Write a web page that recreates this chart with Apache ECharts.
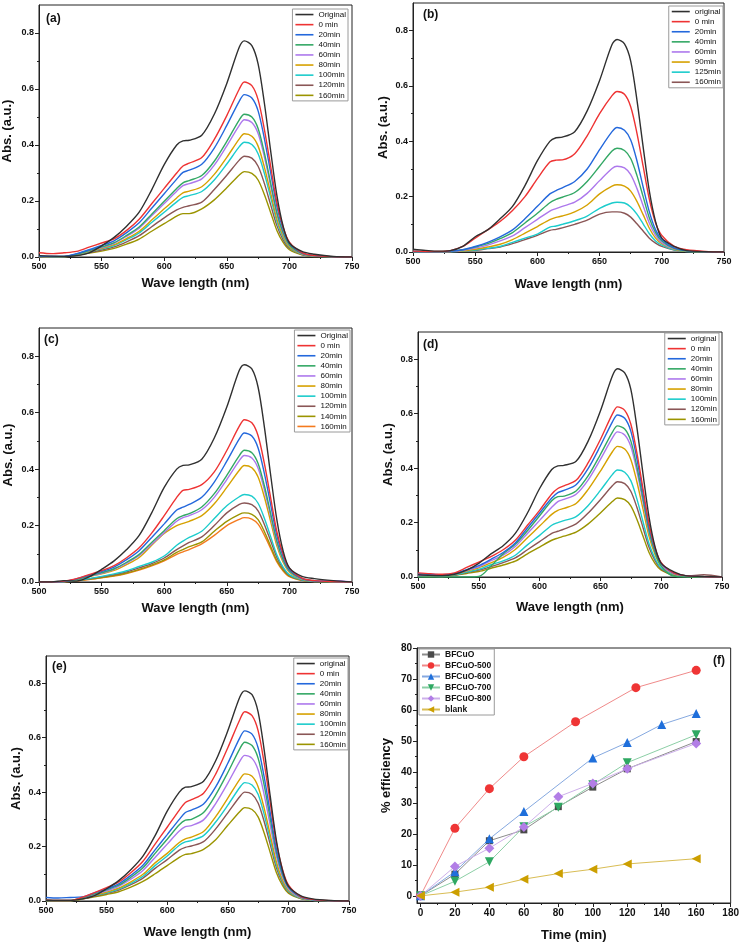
<!DOCTYPE html>
<html>
<head>
<meta charset="utf-8">
<script src="https://cdn.jsdelivr.net/npm/echarts@6/dist/echarts.min.js"></script>
<style>
html, body { margin: 0; padding: 0; background: #fff; }
#chart { width: 742px; height: 945px; }
</style>
</head>
<body>
<div id="chart"></div>
<script>
// wavelength grid (nm) shared by all spectra
var wl = [500,510,520,530,540,550,560,570,580,590,600,610,615,620,630,640,650,660,664,670,675,680,685,690,695,700,710,720,735,750];

// (a)
var aNames = ['Original','0 min','20min','40min','60min','80min','100min','120min','160min'];
var aOrig = [0.005,0.003,0.002,0.005,0.015,0.04,0.07,0.11,0.16,0.24,0.33,0.40,0.415,0.417,0.435,0.51,0.62,0.75,0.772,0.755,0.69,0.55,0.38,0.22,0.11,0.05,0.02,0.01,0.002,0];
var a0 = [0.015,0.012,0.015,0.02,0.035,0.05,0.065,0.095,0.135,0.19,0.245,0.30,0.325,0.335,0.355,0.42,0.505,0.60,0.625,0.612,0.562,0.456,0.325,0.194,0.106,0.053,0.016,0.005,0.001,0];
var a20 = [0.003,0.002,0.002,0.012,0.026,0.041,0.058,0.087,0.122,0.174,0.226,0.278,0.302,0.31,0.331,0.389,0.47,0.557,0.58,0.568,0.522,0.423,0.302,0.18,0.099,0.049,0.015,0.005,0.001,0];
var a40 = [0.003,0.002,0.002,0.01,0.023,0.036,0.051,0.077,0.107,0.153,0.199,0.245,0.265,0.273,0.291,0.342,0.413,0.49,0.51,0.50,0.459,0.372,0.265,0.158,0.087,0.043,0.013,0.004,0.001,0];
var a60 = [0.002,0.002,0.002,0.01,0.022,0.034,0.049,0.074,0.103,0.147,0.191,0.235,0.255,0.262,0.279,0.328,0.397,0.47,0.49,0.48,0.441,0.358,0.255,0.152,0.083,0.042,0.012,0.004,0.001,0];
var a80 = [0.002,0.001,0.001,0.009,0.02,0.031,0.044,0.066,0.092,0.132,0.172,0.211,0.229,0.235,0.251,0.295,0.356,0.422,0.44,0.431,0.396,0.321,0.229,0.136,0.075,0.037,0.011,0.004,0.001,0];
var a100 = [0.002,0.001,0.001,0.008,0.018,0.029,0.041,0.062,0.086,0.123,0.16,0.197,0.213,0.219,0.234,0.275,0.332,0.394,0.41,0.402,0.369,0.299,0.213,0.127,0.07,0.035,0.01,0.003,0.001,0];
var a120 = [0.002,0.001,0.001,0.007,0.016,0.025,0.036,0.054,0.076,0.108,0.14,0.168,0.177,0.183,0.196,0.241,0.292,0.346,0.36,0.353,0.324,0.263,0.187,0.112,0.061,0.031,0.009,0.003,0.001,0];
var a160 = [0.001,0.001,0.001,0.006,0.014,0.021,0.031,0.046,0.064,0.092,0.119,0.146,0.155,0.155,0.172,0.204,0.247,0.293,0.305,0.299,0.275,0.223,0.159,0.095,0.052,0.026,0.008,0.002,0.001,0];

// (b)
var bNames = ['original','0 min','20min','40min','60min','90min','125min','160min'];
var bOrig = [0.01,0.006,0.003,0.005,0.02,0.055,0.08,0.12,0.165,0.24,0.33,0.40,0.413,0.415,0.435,0.51,0.62,0.75,0.768,0.752,0.69,0.55,0.38,0.22,0.11,0.05,0.02,0.005,0.001,0];
var b0 = [0.003,0.002,0.002,0.005,0.02,0.05,0.08,0.11,0.15,0.2,0.265,0.325,0.332,0.333,0.355,0.42,0.50,0.565,0.58,0.57,0.525,0.43,0.31,0.19,0.105,0.06,0.02,0.008,0.002,0];
var b20 = [0.002,0.001,0.001,0.003,0.008,0.02,0.035,0.055,0.08,0.12,0.165,0.21,0.222,0.232,0.255,0.30,0.37,0.435,0.45,0.44,0.405,0.33,0.235,0.145,0.08,0.045,0.015,0.005,0.001,0];
var b40 = [0.002,0.001,0.001,0.003,0.008,0.018,0.03,0.048,0.07,0.105,0.14,0.178,0.19,0.198,0.215,0.255,0.31,0.365,0.375,0.367,0.338,0.277,0.2,0.123,0.07,0.04,0.013,0.004,0.001,0];
var b60 = [0.002,0.001,0.001,0.002,0.006,0.014,0.025,0.04,0.058,0.088,0.118,0.148,0.157,0.165,0.18,0.212,0.258,0.302,0.31,0.304,0.28,0.23,0.167,0.104,0.06,0.034,0.011,0.004,0.001,0];
var b90 = [0.001,0.001,0.001,0.002,0.004,0.01,0.018,0.028,0.045,0.068,0.092,0.117,0.125,0.13,0.145,0.17,0.21,0.238,0.243,0.238,0.22,0.183,0.135,0.086,0.05,0.03,0.01,0.003,0.001,0];
var b125 = [0.001,0.001,0.001,0.001,0.003,0.007,0.013,0.02,0.035,0.05,0.065,0.09,0.094,0.1,0.113,0.13,0.158,0.177,0.18,0.177,0.163,0.137,0.102,0.066,0.04,0.025,0.008,0.002,0.001,0];
var b160 = [0.001,0.001,0.001,0.001,0.003,0.006,0.012,0.018,0.03,0.045,0.06,0.078,0.082,0.087,0.1,0.115,0.137,0.145,0.145,0.14,0.126,0.102,0.076,0.05,0.032,0.02,0.007,0.002,0.001,0];

// (c)
var cNames = ['Original','0 min','20min','40min','60min','80min','100min','120min','140min','160min'];
var cOrig = [0,0,0.005,0.003,0.018,0.045,0.075,0.115,0.165,0.245,0.335,0.40,0.413,0.415,0.435,0.51,0.62,0.75,0.77,0.755,0.69,0.55,0.38,0.22,0.11,0.05,0.02,0.012,0.005,0];
var c0 = [0,0,0.003,0.012,0.026,0.04,0.058,0.086,0.121,0.173,0.235,0.30,0.325,0.328,0.345,0.39,0.466,0.552,0.575,0.564,0.518,0.42,0.299,0.178,0.098,0.049,0.014,0.005,0.001,0];
var c20 = [0,0,0.002,0.011,0.024,0.037,0.053,0.079,0.111,0.158,0.206,0.255,0.265,0.275,0.30,0.354,0.428,0.507,0.528,0.517,0.475,0.385,0.275,0.164,0.09,0.045,0.013,0.004,0.001,0];
var c40 = [0,0,0.002,0.009,0.021,0.033,0.047,0.07,0.098,0.14,0.182,0.224,0.235,0.242,0.266,0.313,0.378,0.448,0.467,0.458,0.42,0.341,0.243,0.145,0.079,0.04,0.012,0.004,0.001,0];
var c60 = [0,0,0.002,0.009,0.02,0.031,0.045,0.067,0.094,0.134,0.175,0.215,0.228,0.235,0.256,0.30,0.363,0.43,0.448,0.439,0.403,0.327,0.233,0.139,0.076,0.038,0.011,0.004,0.005,0];
var c80 = [0,0,0.002,0.008,0.019,0.029,0.041,0.062,0.087,0.13,0.172,0.2,0.208,0.215,0.235,0.277,0.335,0.396,0.413,0.405,0.372,0.301,0.215,0.128,0.07,0.035,0.01,0.003,0.001,0];
var c100 = [0,0,0.002,0.006,0.012,0.02,0.029,0.04,0.055,0.07,0.092,0.13,0.145,0.158,0.18,0.225,0.27,0.302,0.31,0.304,0.279,0.226,0.161,0.096,0.053,0.026,0.008,0.002,0.001,0];
var c120 = [0,0,0.001,0.005,0.011,0.018,0.026,0.036,0.05,0.065,0.085,0.115,0.128,0.14,0.16,0.2,0.245,0.275,0.28,0.274,0.252,0.204,0.146,0.087,0.048,0.024,0.007,0.002,0.001,0];
var c140 = [0,0,0.001,0.005,0.01,0.016,0.023,0.032,0.045,0.06,0.078,0.105,0.115,0.125,0.142,0.18,0.215,0.24,0.245,0.24,0.221,0.179,0.127,0.076,0.042,0.021,0.006,0.002,0.001,0];
var c160 = [0,0,0.001,0.004,0.009,0.015,0.021,0.03,0.042,0.057,0.075,0.098,0.107,0.115,0.135,0.165,0.2,0.222,0.228,0.223,0.205,0.166,0.119,0.071,0.039,0.019,0.006,0.002,0.001,0];

// (d)
var dNames = ['original','0 min','20min','40min','60min','80min','100min','120min','160min'];
var dOrig = [0.008,0.006,0.005,0.01,0.025,0.05,0.085,0.115,0.16,0.235,0.325,0.395,0.408,0.41,0.425,0.50,0.61,0.74,0.765,0.75,0.69,0.55,0.38,0.22,0.11,0.05,0.02,0.005,0.002,0];
var d0 = [0.015,0.012,0.01,0.015,0.035,0.055,0.075,0.1,0.135,0.19,0.245,0.305,0.325,0.335,0.355,0.42,0.505,0.60,0.625,0.612,0.562,0.456,0.325,0.194,0.106,0.053,0.016,0.005,0.001,0];
var d20 = [0.012,0.01,0.008,0.012,0.027,0.042,0.065,0.09,0.125,0.18,0.235,0.29,0.31,0.318,0.339,0.399,0.482,0.571,0.595,0.583,0.536,0.434,0.309,0.184,0.101,0.051,0.015,0.005,0.001,0];
var d40 = [0,0,0,0,0,0.002,0.04,0.085,0.12,0.17,0.225,0.28,0.295,0.297,0.316,0.372,0.45,0.533,0.555,0.544,0.5,0.405,0.289,0.17,0.09,0.04,0.003,0,0,0];
var d60 = [0.005,0.004,0.003,0.011,0.024,0.037,0.06,0.08,0.112,0.16,0.208,0.256,0.277,0.285,0.304,0.357,0.432,0.512,0.533,0.522,0.48,0.389,0.277,0.165,0.091,0.045,0.013,0.004,0.001,0];
var d80 = [0.004,0.003,0.003,0.01,0.022,0.034,0.052,0.072,0.101,0.144,0.187,0.23,0.245,0.252,0.27,0.322,0.389,0.461,0.48,0.47,0.432,0.35,0.25,0.149,0.082,0.041,0.012,0.004,0.001,0];
var d100 = [0.004,0.003,0.002,0.008,0.018,0.028,0.045,0.059,0.08,0.118,0.153,0.19,0.2,0.207,0.222,0.263,0.318,0.377,0.393,0.385,0.354,0.287,0.204,0.122,0.067,0.033,0.01,0.003,0.001,0];
var d120 = [0.003,0.003,0.002,0.007,0.016,0.025,0.038,0.053,0.07,0.1,0.13,0.16,0.168,0.176,0.195,0.235,0.284,0.336,0.35,0.343,0.315,0.256,0.182,0.109,0.06,0.03,0.009,0.003,0.008,0];
var d160 = [0.003,0.002,0.002,0.006,0.013,0.02,0.032,0.044,0.058,0.085,0.11,0.135,0.143,0.15,0.165,0.195,0.235,0.278,0.29,0.284,0.261,0.212,0.151,0.09,0.049,0.025,0.007,0.002,0.001,0];

// (e)
var eNames = ['original','0 min','20min','40min','60min','80min','100min','120min','160min'];
var eOrig = [0.003,0.002,0.002,0.008,0.02,0.045,0.075,0.115,0.165,0.24,0.33,0.40,0.418,0.42,0.44,0.515,0.625,0.75,0.772,0.758,0.695,0.555,0.385,0.225,0.115,0.055,0.02,0.008,0.002,0];
var e0 = [0.003,0.002,0.002,0.014,0.031,0.049,0.07,0.104,0.146,0.209,0.271,0.334,0.362,0.372,0.396,0.466,0.563,0.667,0.695,0.681,0.626,0.507,0.361,0.215,0.118,0.059,0.017,0.006,0.001,0];
var e20 = [0.013,0.011,0.013,0.015,0.03,0.044,0.063,0.094,0.131,0.188,0.244,0.30,0.325,0.334,0.356,0.419,0.506,0.60,0.625,0.613,0.563,0.456,0.325,0.194,0.106,0.053,0.016,0.005,0.001,0];
var e40 = [0.002,0.002,0.002,0.012,0.026,0.041,0.058,0.087,0.122,0.175,0.227,0.28,0.297,0.30,0.325,0.39,0.472,0.56,0.583,0.571,0.525,0.426,0.303,0.181,0.099,0.05,0.015,0.005,0.001,0];
var e60 = [0.002,0.002,0.002,0.011,0.024,0.037,0.054,0.08,0.112,0.16,0.209,0.257,0.273,0.277,0.298,0.358,0.433,0.514,0.535,0.524,0.482,0.391,0.278,0.166,0.091,0.045,0.013,0.004,0.001,0];
var e80 = [0.002,0.001,0.001,0.009,0.021,0.033,0.047,0.07,0.098,0.14,0.175,0.215,0.228,0.235,0.255,0.31,0.378,0.448,0.467,0.458,0.42,0.341,0.243,0.145,0.079,0.04,0.012,0.004,0.001,0];
var e100 = [0.002,0.001,0.001,0.009,0.02,0.03,0.044,0.065,0.091,0.13,0.165,0.205,0.217,0.222,0.24,0.29,0.352,0.418,0.435,0.426,0.392,0.318,0.226,0.135,0.074,0.037,0.011,0.003,0.001,0];
var e120 = [0.002,0.001,0.001,0.008,0.018,0.028,0.04,0.06,0.084,0.12,0.152,0.187,0.197,0.202,0.218,0.265,0.324,0.384,0.40,0.392,0.36,0.292,0.208,0.124,0.068,0.034,0.01,0.003,0.001,0];
var e160 = [0.001,0.001,0.001,0.007,0.015,0.024,0.034,0.051,0.072,0.1,0.13,0.16,0.171,0.174,0.19,0.225,0.278,0.329,0.343,0.336,0.309,0.25,0.178,0.106,0.058,0.029,0.009,0.003,0.001,0];

// (f) degradation efficiency
var fNames = ['BFCuO','BFCuO-500','BFCuO-600','BFCuO-700','BFCuO-800','blank'];
var tBase = [0,20,40,60,80,100,120,160];
var t500 = [0,20,40,60,90,125,160];
var t600 = [0,20,40,60,100,120,140,160];
var effBFCuO = [0,7,17.8,21.3,28.8,35.1,41,49.8];
var eff500 = [0,21.8,34.6,44.9,56.2,67.2,72.8];
var eff600 = [0,7.8,18.4,27.2,44.5,49.5,55.3,58.9];
var eff700 = [0,4.7,11,22.3,28.6,35.9,43,52];
var eff800 = [0,9.5,15.4,22.2,32,36.3,41,49.2];
var effBlank = [0,1.2,2.8,5.4,7.2,8.6,10.3,12];

var wlTicks = [500,550,600,650,700,750];
var wlMinor = [525,575,625,675,725];
var absTicks = [0,0.2,0.4,0.6,0.8];
var absMinor = [0.1,0.3,0.5,0.7];
var timeTicks = [0,20,40,60,80,100,120,140,160,180];
var timeMinor = [10,30,50,70,90,110,130,150,170];
var effTicks = [0,10,20,30,40,50,60,70,80];
var effMinor = [5,15,25,35,45,55,65,75];

var FONT = '"Liberation Sans", Arial, sans-serif';
var C = {
    k: '#303030', r: '#ee3333', b: '#2468dc', g: '#33a865', p: '#ad78ec',
    y: '#d6a100', cy: '#1ccccc', br: '#8a5656', ol: '#9b9400', or: '#f47a1e'
};

var grids = [], xAxes = [], yAxes = [], series = [], legends = [], titles = [];

function addAxes(gi, xr, yr, xMajor, xMinor, yMajor, yMinor, xName, yName, xGap, yGap, labelSize, xFmt, yFmt) {
    var common = function (pos, r, major, name, gap, fmt) {
        return {
            type: 'value', gridIndex: gi, position: pos, min: r[0], max: r[1],
            name: name, nameLocation: 'middle', nameGap: gap,
            nameTextStyle: { fontFamily: FONT, fontWeight: 'bold', fontSize: 13, color: '#111' },
            axisLine: { show: true, onZero: false, lineStyle: { color: '#222', width: 1 } },
            axisTick: { show: true, length: 4, customValues: major, lineStyle: { color: '#222' } },
            axisLabel: { customValues: major, formatter: fmt, fontFamily: FONT, fontWeight: 'bold',
                fontSize: labelSize, color: '#111', margin: 5 },
            splitLine: { show: false }
        };
    };
    var minor = function (pos, r, vals) {
        return {
            type: 'value', gridIndex: gi, position: pos, min: r[0], max: r[1],
            axisLine: { show: false, onZero: false },
            axisTick: { show: true, length: 2, customValues: vals, lineStyle: { color: '#222' } },
            axisLabel: { show: false }, splitLine: { show: false }
        };
    };
    xAxes.push(common('bottom', xr, xMajor, xName, xGap, xFmt), minor('bottom', xr, xMinor));
    yAxes.push(common('left', yr, yMajor, yName, yGap, yFmt), minor('left', yr, yMinor));
}

var spectra = [
    { names: aNames, curves: [aOrig, a0, a20, a40, a60, a80, a100, a120, a160],
      colors: [C.k, C.r, C.b, C.g, C.p, C.y, C.cy, C.br, C.ol],
      box: [39, 5, 313, 252], gaps: [20, 25], legend: [394, 9], label: '(a)', lab: [46, 13] },
    { names: bNames, curves: [bOrig, b0, b20, b40, b60, b90, b125, b160],
      colors: [C.k, C.r, C.b, C.g, C.p, C.y, C.cy, C.br],
      box: [413, 3, 311, 249], gaps: [26, 23], legend: [19, 6], label: '(b)', lab: [423, 9] },
    { names: cNames, curves: [cOrig, c0, c20, c40, c60, c80, c100, c120, c140, c160],
      colors: [C.k, C.r, C.b, C.g, C.p, C.y, C.cy, C.br, C.ol, C.or],
      box: [39, 328, 313, 254], gaps: [20, 24], legend: [392, 330], label: '(c)', lab: [44, 334] },
    { names: dNames, curves: [dOrig, d0, d20, d40, d60, d80, d100, d120, d160],
      colors: [C.k, C.r, C.b, C.g, C.p, C.y, C.cy, C.br, C.ol],
      box: [418, 332, 304, 245], gaps: [24, 23], legend: [23, 333], label: '(d)', lab: [423, 339] },
    { names: eNames, curves: [eOrig, e0, e20, e40, e60, e80, e100, e120, e160],
      colors: [C.k, C.r, C.b, C.g, C.p, C.y, C.cy, C.br, C.ol],
      box: [46, 656, 303, 245], gaps: [25, 23], legend: [394, 658], label: '(e)', lab: [52, 661] }
];

spectra.forEach(function (p, gi) {
    grids.push({ left: p.box[0], top: p.box[1], width: p.box[2], height: p.box[3],
        show: true, borderColor: '#222', borderWidth: 1, containLabel: false });
    addAxes(gi, [500, 750], [0, 0.9], wlTicks, wlMinor, absTicks, absMinor,
        'Wave length (nm)', 'Abs. (a.u.)', p.gaps[0], p.gaps[1], 9,
        function (v) { return String(v); }, function (v) { return v.toFixed(1); });
    p.curves.forEach(function (vals, k) {
        series.push({
            name: p.names[k], type: 'line', xAxisIndex: gi * 2, yAxisIndex: gi * 2,
            data: wl.map(function (w, i) { return [w, vals[i]]; }),
            symbol: 'none', smooth: 0.3, z: 20 - k,
            lineStyle: { color: p.colors[k], width: 1.4 }, itemStyle: { color: p.colors[k] }
        });
    });
    legends.push({
        orient: 'vertical', right: p.legend[0], top: p.legend[1], selectedMode: false,
        icon: 'rect', itemWidth: 18, itemHeight: 1.6, itemGap: 1, padding: [1, 2, 1, 3],
        borderColor: '#9a9a9a', borderWidth: 1, backgroundColor: '#fff',
        textStyle: { fontFamily: FONT, fontSize: 8, color: '#111', lineHeight: 9.1 },
        data: p.names.map(function (n, k) {
            return { name: n, itemStyle: { color: p.colors[k] } };
        })
    });
    titles.push({ text: p.label, left: p.lab[0], top: p.lab[1], padding: 0,
        textStyle: { fontFamily: FONT, fontWeight: 'bold', fontSize: 12, color: '#111' } });
});

// (f)
var fi = spectra.length;
grids.push({ left: 417, top: 648, width: 314, height: 255, show: true, borderColor: '#222', borderWidth: 1 });
addAxes(fi, [-2, 180], [-2.3, 80], timeTicks, timeMinor, effTicks, effMinor,
    'Time (min)', '% efficiency', 26, 24, 10,
    function (v) { return String(v); }, function (v) { return String(v); });

var fSets = [
    { t: tBase, v: effBFCuO, color: '#4a4a4a', line: '#8c8c8c', symbol: 'rect', size: 7, rot: 0 },
    { t: t500, v: eff500, color: '#ef3535', line: '#f08a8a', symbol: 'circle', size: 9, rot: 0 },
    { t: t600, v: eff600, color: '#1f6fdb', line: '#86a9e0', symbol: 'triangle', size: 9, rot: 0 },
    { t: tBase, v: eff700, color: '#2ea862', line: '#8ccfa6', symbol: 'triangle', size: 9, rot: 180 },
    { t: tBase, v: eff800, color: '#b27ee6', line: '#cdb0ea', symbol: 'diamond', size: 10, rot: 0 },
    { t: tBase, v: effBlank, color: '#cc9f00', line: '#d9bd55', symbol: 'triangle', size: 9, rot: 90 }
];
fSets.forEach(function (s, k) {
    series.push({
        name: fNames[k], type: 'line', xAxisIndex: fi * 2, yAxisIndex: fi * 2,
        data: s.t.map(function (t, i) { return [t, s.v[i]]; }),
        symbol: s.symbol, symbolSize: s.size, symbolRotate: s.rot, showSymbol: true,
        lineStyle: { color: s.line, width: 1 }, itemStyle: { color: s.color }
    });
});
legends.push({
    orient: 'vertical', left: 419, top: 649, selectedMode: false,
    itemWidth: 18, itemHeight: 8, itemGap: 2, padding: [1, 3, 1, 2],
    borderColor: '#9a9a9a', borderWidth: 1, backgroundColor: '#fff',
    textStyle: { fontFamily: FONT, fontSize: 8.5, fontWeight: 'bold', color: '#111', lineHeight: 9 },
    data: fNames
});
titles.push({ text: '(f)', left: 713, top: 655, padding: 0,
    textStyle: { fontFamily: FONT, fontWeight: 'bold', fontSize: 12, color: '#111' } });

var chart = echarts.init(document.getElementById('chart'), null, { renderer: 'canvas' });
chart.setOption({
    animation: false,
    backgroundColor: '#fff',
    title: titles,
    legend: legends,
    grid: grids,
    xAxis: xAxes,
    yAxis: yAxes,
    series: series
});
</script>
</body>
</html>
